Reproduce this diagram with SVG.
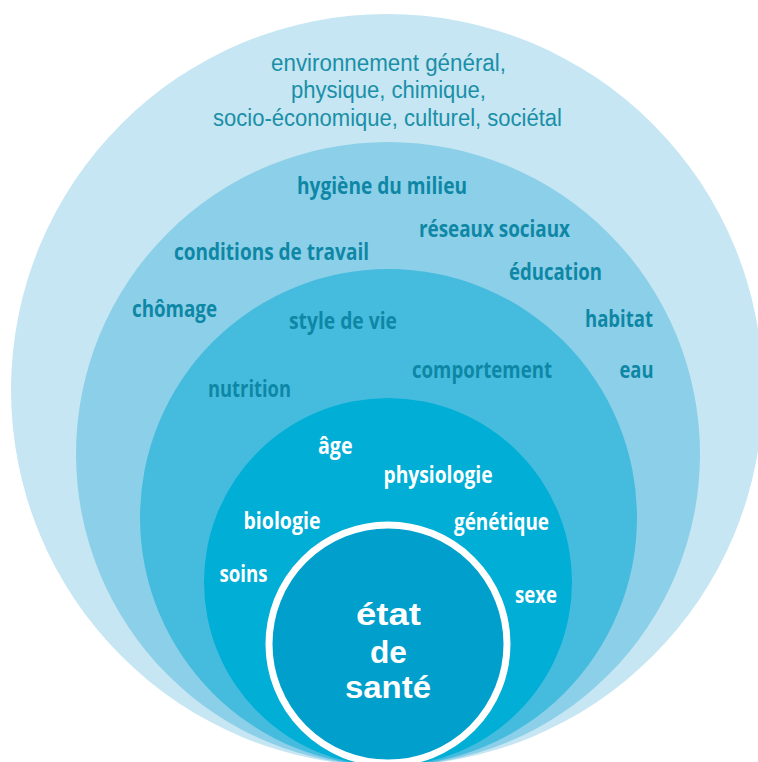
<svg xmlns="http://www.w3.org/2000/svg" width="758" height="762" viewBox="0 0 758 762">
<style>
.ring{stroke:none}
.reg{font-family:"Liberation Sans","Open Sans",sans-serif;font-weight:400;font-size:23px;fill:#1a8fa8}
.lbl{font-family:"Open Sans","Liberation Sans",sans-serif;font-weight:700;font-size:23px;fill:#0d87a5}
.wht{font-family:"Open Sans","Liberation Sans",sans-serif;font-weight:700;font-size:23px;fill:#ffffff}
.ctr{font-family:"Liberation Sans","Open Sans",sans-serif;font-weight:700;font-size:31px;fill:#ffffff;text-anchor:middle}
</style>
<rect width="758" height="762" fill="#ffffff"/>
<g id="environnement">
<circle class="ring" cx="387" cy="390" r="376" fill="#c5e6f2"/>
<text class="reg" x="271" y="71" textLength="235" lengthAdjust="spacingAndGlyphs">environnement général,</text>
<text class="reg" x="291" y="98" textLength="195" lengthAdjust="spacingAndGlyphs">physique, chimique,</text>
<text class="reg" x="213" y="125.5" textLength="349" lengthAdjust="spacingAndGlyphs">socio-économique, culturel, sociétal</text>
</g>
<g id="milieu">
<circle class="ring" cx="388" cy="454" r="312" fill="#8ccfe8"/>
<text class="lbl" x="297" y="194" textLength="170" lengthAdjust="spacingAndGlyphs">hygiène du milieu</text>
<text class="lbl" x="419" y="236.5" textLength="151" lengthAdjust="spacingAndGlyphs">réseaux sociaux</text>
<text class="lbl" x="174" y="260" textLength="195" lengthAdjust="spacingAndGlyphs">conditions de travail</text>
<text class="lbl" x="509" y="280" textLength="93" lengthAdjust="spacingAndGlyphs">éducation</text>
<text class="lbl" x="132" y="316.5" textLength="85" lengthAdjust="spacingAndGlyphs">chômage</text>
<text class="lbl" x="585" y="327" textLength="68" lengthAdjust="spacingAndGlyphs">habitat</text>
<text class="lbl" x="619.5" y="378" textLength="34" lengthAdjust="spacingAndGlyphs">eau</text>
</g>
<g id="style-de-vie">
<circle class="ring" cx="388.5" cy="517.5" r="248.5" fill="#45bcde"/>
<text class="lbl" x="289" y="329" textLength="108" lengthAdjust="spacingAndGlyphs">style de vie</text>
<text class="lbl" x="412" y="378" textLength="140" lengthAdjust="spacingAndGlyphs">comportement</text>
<text class="lbl" x="208" y="397" textLength="83" lengthAdjust="spacingAndGlyphs">nutrition</text>
</g>
<g id="biologie">
<circle class="ring" cx="388" cy="582" r="184" fill="#00aed6"/>
<text class="wht" x="318" y="454" textLength="34.5" lengthAdjust="spacingAndGlyphs">âge</text>
<text class="wht" x="383.5" y="482.5" textLength="109" lengthAdjust="spacingAndGlyphs">physiologie</text>
<text class="wht" x="243.5" y="528.5" textLength="77" lengthAdjust="spacingAndGlyphs">biologie</text>
<text class="wht" x="454" y="530" textLength="95" lengthAdjust="spacingAndGlyphs">génétique</text>
<text class="wht" x="219.5" y="582" textLength="48" lengthAdjust="spacingAndGlyphs">soins</text>
<text class="wht" x="515" y="603" textLength="42" lengthAdjust="spacingAndGlyphs">sexe</text>
</g>
<g id="etat-de-sante">
<circle cx="388" cy="644" r="119" fill="#009fcc" stroke="#ffffff" stroke-width="7"/>
<text class="ctr" x="388.5" y="625" textLength="65" lengthAdjust="spacingAndGlyphs">état</text>
<text class="ctr" x="388.5" y="662.5" textLength="37" lengthAdjust="spacingAndGlyphs">de</text>
<text class="ctr" x="388" y="698" textLength="86" lengthAdjust="spacingAndGlyphs">santé</text>
</g>
</svg>
